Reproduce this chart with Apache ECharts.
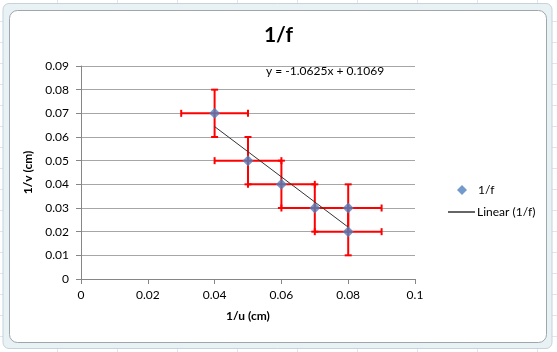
<!DOCTYPE html>
<html>
<head>
<meta charset="utf-8">
<script src="https://cdn.jsdelivr.net/npm/echarts@6/dist/echarts.min.js"></script>
<style>
  html, body { margin: 0; padding: 0; background: #fff; }
  #chart { width: 557px; height: 352px; }
</style>
</head>
<body>
<div id="chart"></div>
<script>
// data
const xVals = [0.04, 0.05, 0.06, 0.07, 0.08, 0.08];
const yVals = [0.07, 0.05, 0.04, 0.03, 0.03, 0.02];
const xErr = [0.01, 0.01, 0.01, 0.01, 0.01, 0.01];
const yErr = [0.01, 0.01, 0.01, 0.01, 0.01, 0.01];
const slope = -1.0625;
const intercept = 0.1069;
const trendRange = [0.04, 0.08];

const FONT = "Lato, 'Open Sans', sans-serif";

const chart = echarts.init(document.getElementById("chart"));

const points = xVals.map((x, i) => [x, yVals[i]]);
const errData = xVals.map((x, i) => [x, yVals[i], xErr[i], yErr[i]]);
const trendData = trendRange.map((x) => [x, slope * x + intercept]);

// spreadsheet cell lines behind the chart
const sheetLines = [];
for (let x = 57; x < 557; x += 60) {
  sheetLines.push({ type: "line", silent: true, z: -10,
    shape: { x1: x + 0.5, y1: 0, x2: x + 0.5, y2: 352 },
    style: { stroke: "#dde6ee", lineWidth: 1 } });
}
for (let y = 21; y < 352; y += 21) {
  sheetLines.push({ type: "line", silent: true, z: -10,
    shape: { x1: 0, y1: y + 0.5, x2: 557, y2: y + 0.5 },
    style: { stroke: "#dde6ee", lineWidth: 1 } });
}

const tickFmt = (v) => String(+v.toFixed(2));

chart.setOption({
  animation: false,
  backgroundColor: "#ffffff",
  title: {
    text: "1/f",
    left: "center",
    top: 20,
    textStyle: { fontFamily: FONT, fontSize: 21, fontWeight: "bold", color: "#000" },
  },
  grid: { left: 81, right: 142, top: 66, bottom: 73 },
  legend: [
    {
      left: 452,
      top: 179,
      itemWidth: 10,
      itemHeight: 10,
      itemGap: 0,
      textStyle: { fontFamily: FONT, fontSize: 12, color: "#000", padding: [0, 0, 0, 6] },
      data: [{ name: "1/f", icon: "diamond" }],
    },
    {
      left: 443,
      top: 201,
      itemWidth: 27,
      itemHeight: 1.5,
      itemGap: 0,
      textStyle: { fontFamily: FONT, fontSize: 12, color: "#000", padding: [0, 0, 0, -3] },
      data: [{ name: "Linear (1/f)", icon: "rect" }],
    },
  ],
  xAxis: {
    type: "value",
    min: 0,
    max: 0.1,
    interval: 0.02,
    name: "1/u (cm)",
    nameLocation: "middle",
    nameGap: 31,
    nameTextStyle: { fontFamily: FONT, fontSize: 12, fontWeight: "bold", color: "#000" },
    axisLine: { show: true, onZero: false, lineStyle: { color: "#868686" } },
    axisTick: { show: true, length: 5, lineStyle: { color: "#868686" } },
    axisLabel: { fontFamily: FONT, fontSize: 12, color: "#000", margin: 10, formatter: tickFmt },
    splitLine: { show: false },
  },
  yAxis: {
    type: "value",
    min: 0,
    max: 0.09,
    interval: 0.01,
    name: "1/v (cm)",
    nameLocation: "middle",
    nameGap: 43,
    nameTextStyle: { fontFamily: FONT, fontSize: 12, fontWeight: "bold", color: "#000" },
    axisLine: { show: true, lineStyle: { color: "#868686" } },
    axisTick: { show: true, length: 5, lineStyle: { color: "#868686" } },
    axisLabel: { fontFamily: FONT, fontSize: 12, color: "#000", margin: 12, formatter: tickFmt },
    splitLine: { show: true, lineStyle: { color: "#a6a6a6", width: 1 } },
  },
  graphic: [
    ...sheetLines,
    // chart frame
    { type: "rect", silent: true, z: -5,
      shape: { x: 3, y: 3.5, width: 549, height: 345, r: 6 },
      style: { fill: "#e8f1f3", stroke: "#c4d3dc", lineWidth: 1 } },
    { type: "rect", silent: true, z: -4,
      shape: { x: 9.5, y: 10.5, width: 537, height: 332, r: 8 },
      style: { fill: "#ffffff", stroke: "#9ea7ae", lineWidth: 1 } },
    // trendline equation
    { type: "text", left: 266, top: 65, z: 10,
      style: { text: "y = -1.0625x + 0.1069", font: "12px " + FONT, fill: "#000" } },
  ],
  series: [
    {
      name: "errors",
      type: "custom",
      z: 2,
      data: errData,
      renderItem(params, api) {
        const x = api.value(0), y = api.value(1);
        const dx = api.value(2), dy = api.value(3);
        const l = api.coord([x - dx, y]);
        const r = api.coord([x + dx, y]);
        const t = api.coord([x, y + dy]);
        const b = api.coord([x, y - dy]);
        const cap = 3.5;
        const style = { stroke: "#ff0000", lineWidth: 2 };
        const seg = (x1, y1, x2, y2) => ({ type: "line", shape: { x1, y1, x2, y2 }, style });
        return {
          type: "group",
          children: [
            seg(l[0], l[1], r[0], r[1]),
            seg(l[0], l[1] - cap, l[0], l[1] + cap),
            seg(r[0], r[1] - cap, r[0], r[1] + cap),
            seg(t[0], t[1], b[0], b[1]),
            seg(t[0] - cap, t[1], t[0] + cap, t[1]),
            seg(b[0] - cap, b[1], b[0] + cap, b[1]),
          ],
        };
      },
    },
    {
      name: "Linear (1/f)",
      type: "line",
      z: 3,
      data: trendData,
      symbol: "none",
      lineStyle: { color: "#333333", width: 1 },
      itemStyle: { color: "#333333" },
    },
    {
      name: "1/f",
      type: "scatter",
      z: 4,
      data: points,
      symbol: "diamond",
      symbolSize: 11,
      itemStyle: { color: "#4f81bd" },
    },
  ],
});
</script>
</body>
</html>
